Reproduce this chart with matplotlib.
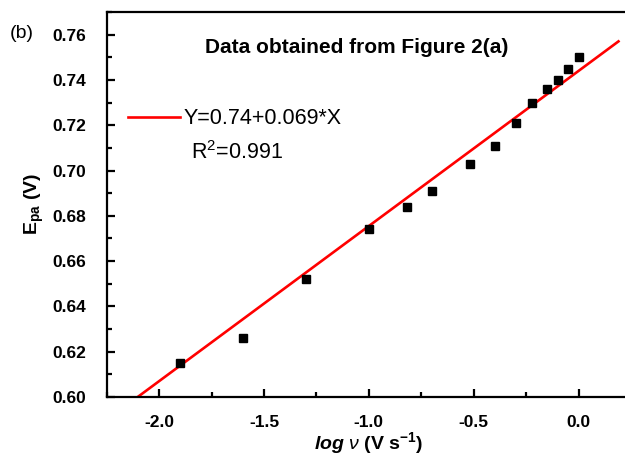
import numpy as np
import matplotlib
matplotlib.use('Agg')
import matplotlib.pyplot as plt
from matplotlib.ticker import MultipleLocator, FormatStrFormatter

plt.rcParams['font.family'] = ['Liberation Sans', 'DejaVu Sans']
plt.rcParams['mathtext.fontset'] = 'custom'
plt.rcParams['mathtext.rm'] = 'Liberation Sans'
plt.rcParams['mathtext.it'] = 'Liberation Sans:italic'
plt.rcParams['mathtext.bf'] = 'Liberation Sans:bold'
plt.rcParams['mathtext.bfit'] = 'Liberation Sans:italic:bold'
plt.rcParams['axes.unicode_minus'] = False

# data (b)
log_v = [-1.90, -1.60, -1.30, -1.00, -0.82, -0.70, -0.52, -0.40, -0.30,
         -0.22, -0.15, -0.10, -0.05, 0.00]
E_pa = [0.615, 0.626, 0.652, 0.674, 0.684, 0.691, 0.703, 0.711, 0.721,
        0.730, 0.736, 0.740, 0.745, 0.750]
fit_intercept = 0.744
fit_slope = 0.0685
fit_label = 'Y=0.74+0.069*X'
r2_label = 'R$^{2}$=0.991'
title = 'Data obtained from Figure 2(a)'

fig = plt.figure(figsize=(6.25, 4.57), dpi=100)
ax = fig.add_axes([0.1707, 0.1313, 0.839, 0.8425])

xs = np.linspace(-2.25, 0.19, 50)
ax.plot(xs, fit_intercept + fit_slope * xs, color='#ff0000', lw=1.9,
        label=fit_label, zorder=2)
ax.plot(log_v, E_pa, 's', color='black', ms=6.3, zorder=3)

ax.set_xlim(-2.25, 0.25)
ax.set_ylim(0.60, 0.77)

ax.xaxis.set_major_locator(MultipleLocator(0.5))
ax.xaxis.set_minor_locator(MultipleLocator(0.25))
ax.yaxis.set_major_locator(MultipleLocator(0.02))
ax.yaxis.set_minor_locator(MultipleLocator(0.01))
ax.xaxis.set_major_formatter(FormatStrFormatter('%.1f'))
ax.yaxis.set_major_formatter(FormatStrFormatter('%.2f'))

for s in ax.spines.values():
    s.set_linewidth(1.6)
ax.tick_params(which='major', direction='in', length=6, width=1.6,
               labelsize=12.5)
ax.tick_params(axis='y', which='major', pad=15)
ax.tick_params(axis='x', which='major', pad=13)
ax.tick_params(which='minor', direction='in', length=3.5, width=1.6)
for lbl in ax.get_xticklabels() + ax.get_yticklabels():
    lbl.set_fontweight('bold')

ax.set_xlabel(r'$\mathbfit{log}$ $\nu$ (V s$^{\mathbf{-1}}$)',
              fontsize=14, fontweight='bold', labelpad=0)
ax.set_ylabel(r'E$_{\mathbf{pa}}$ (V)', fontsize=14, fontweight='bold',
              labelpad=4)

ax.text(0.477, 0.907, title, transform=ax.transAxes, ha='center',
        va='center', fontsize=15, fontweight='bold')
ax.legend(loc='upper left', bbox_to_anchor=(0.024, 0.772), frameon=False,
          fontsize=15.5, handlelength=2.4, handletextpad=0.2,
          borderaxespad=0)
ax.text(0.16, 0.635, r2_label, transform=ax.transAxes, ha='left',
        va='center', fontsize=15.5)

fig.text(0.016, 0.926, '(b)', fontsize=14, va='center', ha='left')

fig.savefig('out.png', dpi=100)
